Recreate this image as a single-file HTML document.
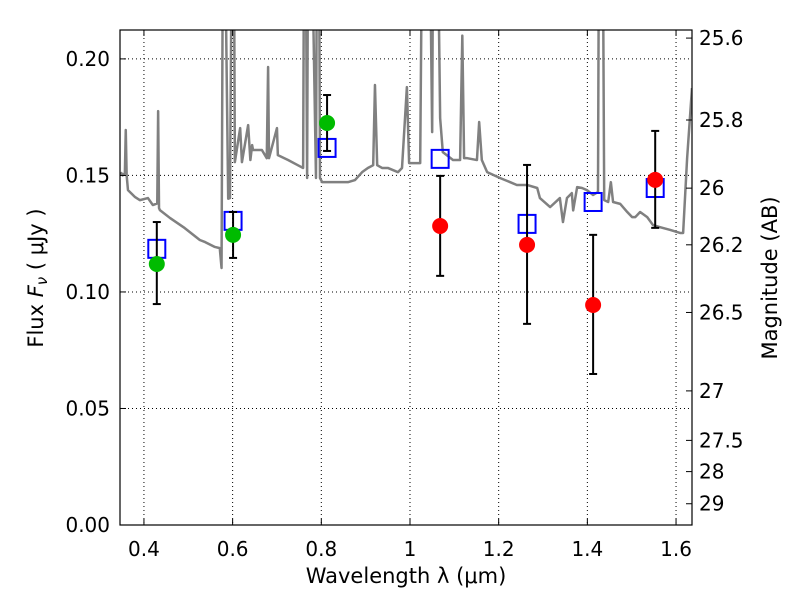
<!DOCTYPE html>
<html><head><meta charset="utf-8"><style>
body{margin:0;background:#fff;font-family:"Liberation Sans","DejaVu Sans",sans-serif}
svg text{font-family:"DejaVu Sans","Liberation Sans",sans-serif}
</style></head><body>
<svg id="chart" width="800" height="600" xmlns="http://www.w3.org/2000/svg">
<defs><clipPath id="clip"><rect x="120" y="30" width="572" height="495"/></clipPath></defs>
<g id="grid"></g>
<g id="spec" clip-path="url(#clip)"></g>
<g id="marks"></g>
<rect x="120" y="30" width="572" height="495" fill="none" stroke="#000" stroke-width="1.2"/>
<g id="axes"></g>
<text x="406" y="583" font-size="21" text-anchor="middle">Wavelength  λ (μm)</text>
<text transform="translate(43,278) rotate(-90)" font-size="21" text-anchor="middle">Flux  <tspan font-style="italic">F</tspan><tspan font-style="italic" font-size="15" dy="4">ν</tspan><tspan dy="-4">  ( μJy )</tspan></text>
<text transform="translate(777,278) rotate(-90)" font-size="21" text-anchor="middle">Magnitude (AB)</text>
</svg>
<script>
const xTicks=[0.4,0.6,0.8,1.0,1.2,1.4,1.6];
const xTickLabels=["0.4","0.6","0.8","1","1.2","1.4","1.6"];
const yTicks=[0,0.05,0.10,0.15,0.20];
const yTickLabels=["0.00","0.05","0.10","0.15","0.20"];
const magTicks=[25.6,25.8,26,26.2,26.5,27,27.5,28,29];
const magTickLabels=["25.6","25.8","26","26.2","26.5","27","27.5","28","29"];
const specWave=[0.348,0.352,0.357,0.359,0.361,0.364,0.380,0.391,0.409,0.420,0.430,0.432,0.434,0.436,0.459,0.492,0.526,0.538,0.560,0.571,0.575,0.578,0.583,0.590,0.594,0.598,0.603,0.605,0.617,0.621,0.635,0.640,0.644,0.646,0.666,0.677,0.680,0.682,0.700,0.702,0.725,0.747,0.759,0.761,0.765,0.768,0.770,0.779,0.788,0.790,0.795,0.797,0.802,0.815,0.860,0.876,0.892,0.905,0.917,0.921,0.926,0.937,0.950,0.973,0.982,0.993,0.998,1.011,1.023,1.027,1.045,1.050,1.052,1.063,1.068,1.074,1.097,1.113,1.118,1.122,1.129,1.151,1.156,1.162,1.174,1.203,1.226,1.241,1.264,1.287,1.293,1.316,1.338,1.345,1.354,1.365,1.368,1.377,1.388,1.399,1.413,1.424,1.426,1.435,1.438,1.447,1.453,1.458,1.474,1.490,1.501,1.508,1.519,1.535,1.548,1.564,1.587,1.609,1.616,1.625,1.636];
const specFlux=[0.1514,0.150,0.151,0.1695,0.150,0.1437,0.1407,0.1394,0.1403,0.1373,0.138,0.1776,0.136,0.1351,0.1317,0.1274,0.1223,0.1214,0.1193,0.1188,0.1103,0.25,0.25,0.14,0.1403,0.25,0.25,0.1557,0.1703,0.1557,0.1716,0.1566,0.1630,0.1609,0.1609,0.1574,0.1965,0.1574,0.1703,0.1587,0.1566,0.1544,0.1532,0.25,0.25,0.1489,0.25,0.25,0.1489,0.25,0.25,0.1489,0.1471,0.1471,0.1471,0.148,0.1514,0.1532,0.1544,0.1888,0.1544,0.1532,0.1532,0.1514,0.1532,0.1879,0.1553,0.1553,0.1553,0.25,0.25,0.1686,0.25,0.25,0.1746,0.16,0.1566,0.1566,0.21,0.1574,0.1574,0.1566,0.1729,0.1566,0.1514,0.1489,0.1471,0.1459,0.1459,0.1446,0.1403,0.1364,0.1403,0.13,0.1403,0.1424,0.135,0.145,0.1446,0.1437,0.1416,0.1429,0.25,0.25,0.1394,0.1386,0.1471,0.1386,0.1378,0.1343,0.1321,0.1321,0.1343,0.1321,0.1287,0.1278,0.1266,0.1253,0.1253,0.1574,0.1875];
const greenWave=[0.429,0.601,0.813];
const greenFlux=[0.112,0.1245,0.1725];
const greenErrLo=[0.0948,0.1146,0.1605];
const greenErrHi=[0.130,0.1343,0.1845];
const redWave=[1.068,1.264,1.413,1.553];
const redFlux=[0.1283,0.1202,0.0944,0.1481];
const redErrLo=[0.1069,0.0863,0.0648,0.1275];
const redErrHi=[0.1498,0.1545,0.1245,0.1691];
const modelWave=[0.429,0.601,0.813,1.068,1.264,1.413,1.553];
const modelFlux=[0.1185,0.1305,0.1618,0.1571,0.1292,0.1386,0.1446];

const X0=120,X1=692,Y0=525,Y1=30,xmin=0.346,xmax=1.636,ymin=0,ymax=0.2124;
const sx=v=>X0+(v-xmin)/(xmax-xmin)*(X1-X0);
const sy=v=>Y0-(v-ymin)/(ymax-ymin)*(Y0-Y1);
const magToFlux=m=>Math.pow(10,(23.9-m)/2.5);
const NS="http://www.w3.org/2000/svg";
function mk(tag,attrs,parent){const e=document.createElementNS(NS,tag);for(const k in attrs)e.setAttribute(k,attrs[k]);parent.appendChild(e);return e;}
const grid=document.getElementById('grid'),axes=document.getElementById('axes'),spec=document.getElementById('spec'),marks=document.getElementById('marks');
xTicks.forEach((t,i)=>{const x=sx(t);
 const g=mk('line',{x1:x,x2:x,y1:Y1,y2:Y0,stroke:'#000','stroke-dasharray':'1,3','stroke-width':1},grid);
 
 mk('line',{x1:x,x2:x,y1:Y0,y2:Y0-6,stroke:'#000'},axes);mk('line',{x1:x,x2:x,y1:Y1,y2:Y1+6,stroke:'#000'},axes);
 const l=mk('text',{x:x,y:556,'font-size':20,'text-anchor':'middle'},axes);l.textContent=xTickLabels[i];
 });
yTicks.forEach((t,i)=>{const y=sy(t);
 const g=mk('line',{x1:X0,x2:X1,y1:y,y2:y,stroke:'#000','stroke-dasharray':'1,3','stroke-width':1},grid);
 
 mk('line',{x1:X0,x2:X0+6,y1:y,y2:y,stroke:'#000'},axes);
 const l=mk('text',{x:110,y:y+7,'font-size':20,'text-anchor':'end'},axes);l.textContent=yTickLabels[i];
 });
magTicks.forEach((m,i)=>{const y=sy(magToFlux(m));
 mk('line',{x1:X1,x2:X1-6,y1:y,y2:y,stroke:'#000'},axes);
 const l=mk('text',{x:699,y:y+7,'font-size':20},axes);l.textContent=magTickLabels[i];
 });
const p=mk('polyline',{points:specWave.map((w,i)=>sx(w)+','+sy(specFlux[i])).join(' '),fill:'none',stroke:'#808080','stroke-width':2.5,'stroke-linejoin':'round'},spec);

function errbar(w,lo,hi){const x=sx(w);
 mk('line',{x1:x,x2:x,y1:sy(lo),y2:sy(hi),stroke:'#000','stroke-width':2},marks);
 mk('line',{x1:x-4,x2:x+4,y1:sy(lo),y2:sy(lo),stroke:'#000','stroke-width':2},marks);
 mk('line',{x1:x-4,x2:x+4,y1:sy(hi),y2:sy(hi),stroke:'#000','stroke-width':2},marks);}
modelWave.forEach((w,i)=>{const r=mk('rect',{x:sx(w)-8.5,y:sy(modelFlux[i])-9,width:17,height:18,fill:'none',stroke:'#0000ff','stroke-width':2},marks);
 });
greenWave.forEach((w,i)=>{errbar(w,greenErrLo[i],greenErrHi[i]);
 const c=mk('circle',{cx:sx(w),cy:sy(greenFlux[i]),r:8,fill:'#00bb00'},marks);
 });
redWave.forEach((w,i)=>{errbar(w,redErrLo[i],redErrHi[i]);
 const c=mk('circle',{cx:sx(w),cy:sy(redFlux[i]),r:8,fill:'#ff0000'},marks);
 });
</script>
</body></html>
